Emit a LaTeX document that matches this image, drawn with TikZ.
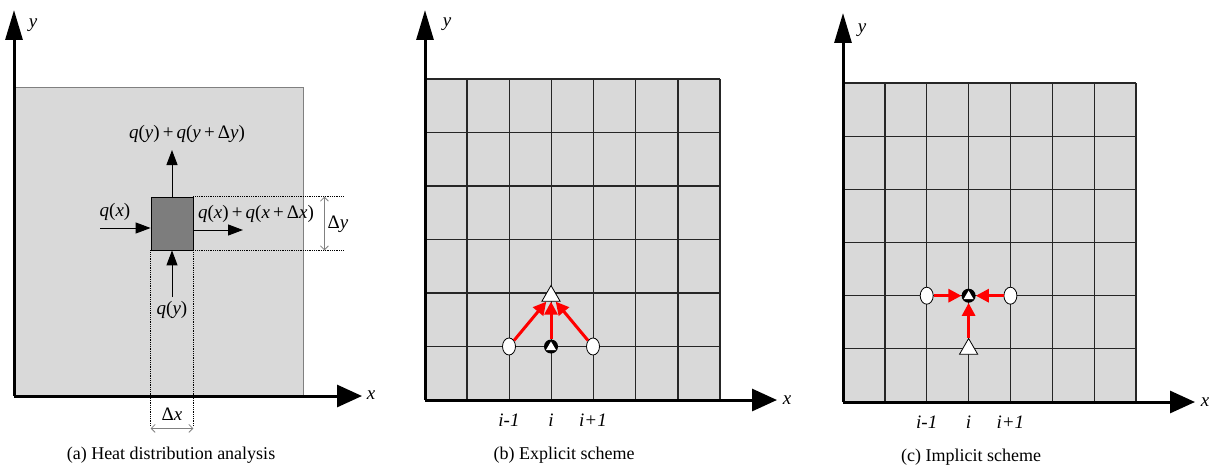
\documentclass[tikz,border=0pt]{standalone}
\usepackage{fontspec}
\setmainfont{Liberation Serif}
\usepackage{tikz}
\usetikzlibrary{positioning, arrows.meta, shapes.geometric}

\definecolor{lightcell}{RGB}{217,217,217}
\definecolor{darkcell}{RGB}{125,125,125}
\newcommand{\itv}[1]{\textit{#1}}

\begin{document}
\begin{tikzpicture}[x=1pt, y=-1pt, font=\fontsize{19}{22}\selectfont]

	% 定义样式
	\tikzset{
		xaxis/.style={line width=3pt, -{Triangle[length=25pt,width=22pt]}},
		yaxis/.style={line width=3pt, -{Triangle[length=30pt,width=17pt]}},
		flux/.style={line width=1pt, -{Triangle[length=15pt,width=11pt]}},
		dimline/.style={gray, line width=0.8pt, {Straight Barb[length=4pt,width=8pt]}-{Straight Barb[length=4pt,width=8pt]}},
		guide/.style={densely dotted, line width=0.8pt},
		gridline/.style={line width=1.3pt, black!85},
		red arrow/.style={red, line width=3pt, -{Triangle[length=13pt,width=13pt]}},
		caption/.style={font=\fontsize{18}{21}\selectfont},
		open node/.style={
			ellipse, draw, line width=0.8pt, fill=white,
			minimum width=13pt, minimum height=17pt, inner sep=0pt
		},
		solid node/.style={
			circle, fill=black, minimum size=14pt, inner sep=0pt,
			path picture={
				\fill[white] ([shift={(0pt,5pt)}]path picture bounding box.center)
				-- ([shift={(-5pt,-3.5pt)}]path picture bounding box.center)
				-- ([shift={(5pt,-3.5pt)}]path picture bounding box.center) -- cycle;
			}
		},
		tri node/.style={
			regular polygon, regular polygon sides=3, draw, line width=0.8pt,
			fill=white, minimum size=21pt, inner sep=0pt
		}
	}

	\useasboundingbox (0,0) rectangle (1209,468);

	% ===== (a) 热分布分析 =====
	\fill[lightcell, draw=gray, line width=1pt] (14,88) rectangle (303,396);
	\node[draw, line width=0.8pt, fill=darkcell, minimum width=42pt, minimum height=53pt, inner sep=0pt] (cell) at (172,223.5) {};

	% 虚线
	\draw[guide] (cell.north east) -- ++(150,0);
	\draw[guide] (cell.south east) -- ++(150,0);
	\draw[guide] (cell.south west) -- ++(0,175);
	\draw[guide] (cell.south east) -- ++(0,175);

	% 尺寸
	\draw[dimline] ([xshift=131pt]cell.north east) -- ([xshift=131pt]cell.south east);
	\draw[dimline] ([yshift=-178pt]cell.south west) -- ([yshift=-178pt]cell.south east);
	\node (dylab) at (338,224) {Δ\itv{y}};
	\node (dxlab) at (172,414) {Δ\itv{x}};

	% 热流箭头
	\coordinate (qyout) at (172,150);
	\coordinate (qxin) at (100,228);
	\coordinate (qxout) at (243,230);
	\coordinate (qyin) at (172,297);
	\draw[flux] (cell.north) -- (qyout);
	\draw[flux] (qxin) -- (qxin -| cell.west);
	\draw[flux] (qxout -| cell.east) -- (qxout);
	\draw[flux] (qyin) -- (cell.south);

	% 标签
	\node (qtop) at (187,134) {\itv{q}(\itv{y})\,+\,\itv{q}(\itv{y}\,+\,Δ\itv{y})};
	\node (qleft) at (115,212) {\itv{q}(\itv{x})};
	\node (qright) at (256,214) {\itv{q}(\itv{x})\,+\,\itv{q}(\itv{x}\,+\,Δ\itv{x})};
	\node (qbot) at (172,310) {\itv{q}(\itv{y})};

	% 坐标轴
	\coordinate (aO) at (14,396);
	\coordinate (aY) at (14,10);
	\coordinate (aX) at (362,396);
	\draw[yaxis] (aO) -- (aY);
	\draw[xaxis] (aO) -- (aX);
	\node (aylab) at (33,25) {\itv{y}};
	\node (axlab) at (371,395) {\itv{x}};
	\node[caption] (capA) at (171,455) {(a) Heat distribution analysis};

	% ===== (b) 显式格式 =====
	\def\colw{42.14}
	\def\rowh{53.5}
	\fill[lightcell] (425,79) rectangle (720,400);
	\foreach \c in {0,...,7} {
		\draw[gridline] ({425+\c*\colw},79) -- ({425+\c*\colw},400);
	}
	\foreach \r in {0,...,6} {
		\draw[gridline] (425,{400-\r*\rowh}) -- (720,{400-\r*\rowh});
	}

	% 节点
	\node[open node] (bl) at (509,346.5) {};
	\node[solid node] (bi) at (551,346.5) {};
	\node[open node] (br) at (593,346.5) {};
	\node[tri node] (bt) at (551,296) {};
	\draw[red arrow] (bl) -- (bt);
	\draw[red arrow] (bi) -- (bt);
	\draw[red arrow] (br) -- (bt);

	\node (bim) at (509,420) {\itv{i-1}};
	\node (bii) at (551,420) {\itv{i}};
	\node (bip) at (593,420) {\itv{i+1}};

	% 坐标轴
	\coordinate (bO) at (425,400);
	\coordinate (bY) at (425,10);
	\coordinate (bX) at (777,400);
	\draw[yaxis] (bO) -- (bY);
	\draw[xaxis] (bO) -- (bX);
	\node (bylab) at (447,24) {\itv{y}};
	\node (bxlab) at (787,400) {\itv{x}};
	\node[caption] (capB) at (564,455) {(b) Explicit scheme};

	% ===== (c) 隐式格式 =====
	\def\colw{41.86}
	\def\rowh{53.17}
	\fill[lightcell] (843,83) rectangle (1136,402);
	\foreach \c in {0,...,7} {
		\draw[gridline] ({843+\c*\colw},83) -- ({843+\c*\colw},402);
	}
	\foreach \r in {0,...,6} {
		\draw[gridline] (843,{402-\r*\rowh}) -- (1136,{402-\r*\rowh});
	}

	% 节点
	\node[open node] (cl) at (926.7,295.7) {};
	\node[solid node] (ci) at (968.6,295.7) {};
	\node[open node] (cr) at (1010.4,295.7) {};
	\node[tri node] (ct) at (968.6,349) {};
	\draw[red arrow] (cl) -- (ci);
	\draw[red arrow] (cr) -- (ci);
	\draw[red arrow] (ct) -- (ci);

	\node (cim) at (926.7,422) {\itv{i-1}};
	\node (cii) at (968.6,422) {\itv{i}};
	\node (cip) at (1010.4,422) {\itv{i+1}};

	% 坐标轴
	\coordinate (cO) at (843,402);
	\coordinate (cY) at (843,13);
	\coordinate (cX) at (1195,402);
	\draw[yaxis] (cO) -- (cY);
	\draw[xaxis] (cO) -- (cX);
	\node (cylab) at (862,30) {\itv{y}};
	\node (cxlab) at (1205,402) {\itv{x}};
	\node[caption] (capC) at (971,457) {(c) Implicit scheme};

\end{tikzpicture}
\end{document}
